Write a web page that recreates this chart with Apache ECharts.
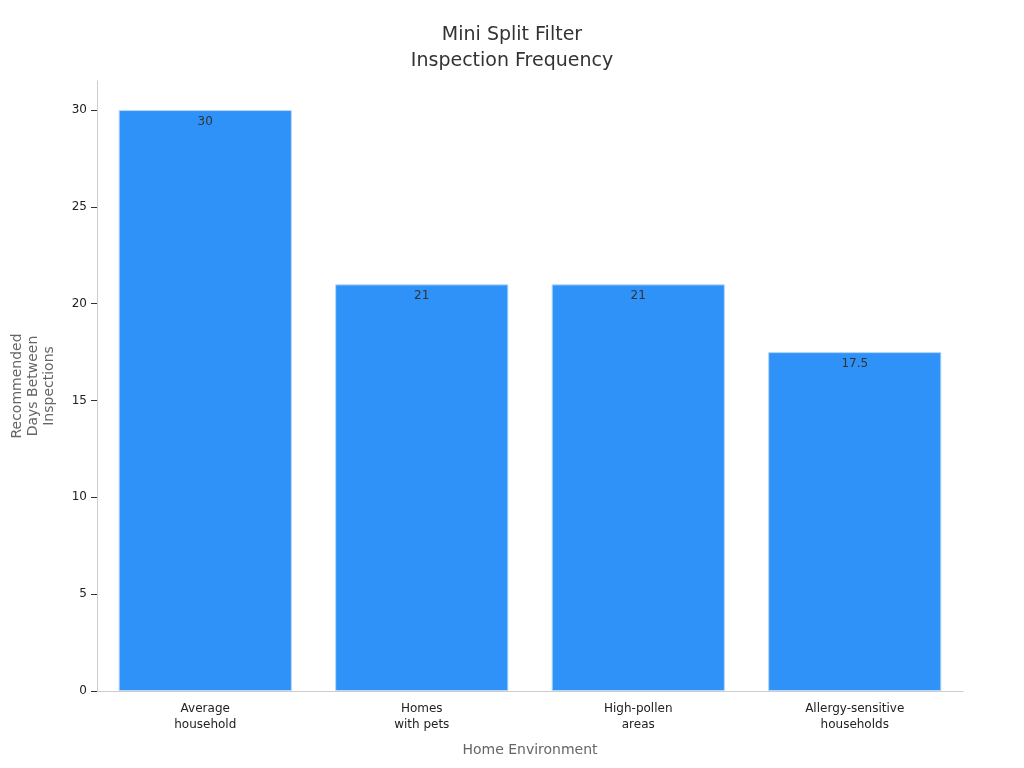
<!DOCTYPE html>
<html><head><meta charset="utf-8">
<script src="https://cdn.jsdelivr.net/npm/echarts@6/dist/echarts.min.js"></script>
<style>html,body{margin:0;padding:0;background:#fff}#c{width:1024px;height:768px}</style>
</head><body><div id="c"></div>
<script>
const categories = ["Average\nhousehold", "Homes\nwith pets", "High-pollen\nareas", "Allergy-sensitive\nhouseholds"];
const values = [30, 21, 21, 17.5];
const yTicks = [0, 5, 10, 15, 20, 25, 30];
const chart = echarts.init(document.getElementById('c'));
chart.setOption({
  textStyle: {fontFamily: 'DejaVu Sans'},
  title: {text: 'Mini Split Filter\nInspection Frequency', left: 'center', top: 17,
    textStyle: {fontSize: 19, fontWeight: 'normal', color: '#333', lineHeight: 26, fontFamily: 'DejaVu Sans'}},
  grid: {left: 97, right: 61, top: 81, bottom: 77, outerBoundsMode: 'none'},
  xAxis: {type: 'category', data: categories,
    name: 'Home Environment', nameLocation: 'middle', nameGap: 52,
    nameTextStyle: {fontSize: 14, color: '#666'},
    axisLine: {lineStyle: {color: '#ccc'}}, axisTick: {show: false},
    axisLabel: {fontSize: 12, color: '#222', lineHeight: 16, margin: 10}},
  yAxis: {type: 'value', min: 0, max: 31.5,
    name: 'Recommended\nDays Between\nInspections', nameLocation: 'middle', nameGap: 40,
    nameTextStyle: {fontSize: 14, color: '#666', lineHeight: 16},
    axisLine: {show: true, lineStyle: {color: '#ccc'}},
    axisTick: {show: true, length: 6, customValues: yTicks, lineStyle: {color: '#333'}},
    splitLine: {show: false},
    axisLabel: {fontSize: 12, color: '#222', customValues: yTicks, margin: 10}},
  series: [{type: 'bar', data: values, barCategoryGap: '20%',
    itemStyle: {color: '#2f92f8', borderColor: '#b8d8fb', borderWidth: 1},
    label: {show: true, position: 'insideTop', distance: 6, color: '#333', fontSize: 12}}]
});
</script></body></html>
